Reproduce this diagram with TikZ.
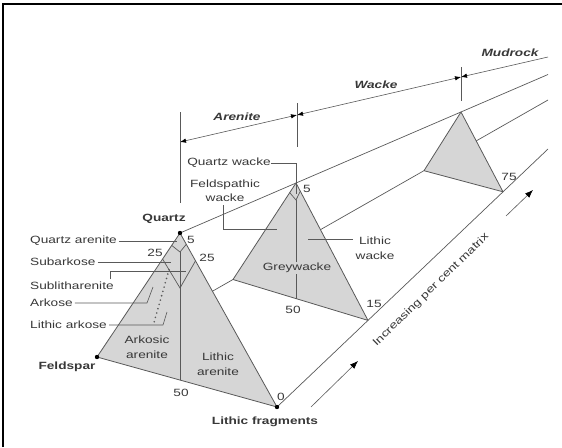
\documentclass[tikz,border=0pt]{standalone}
\usepackage{fontspec}
\setmainfont[FakeStretch=1.3]{Liberation Sans}
\usetikzlibrary{arrows.meta,calc}
\definecolor{ln}{gray}{0.35}
\definecolor{tx}{gray}{0.22}
\definecolor{fillg}{gray}{0.84}
\begin{document}
\begin{tikzpicture}[x=1pt,y=-1pt,
  edge/.style={draw=ln,line width=0.7pt},
  tri/.style={fill=fillg,draw=ln,line width=0.8pt,line join=round},
  inner/.style={draw=ln,line width=0.7pt},
  leader/.style={draw=ln,line width=0.6pt},
  lbl/.style={font=\fontsize{10.5}{14.5}\selectfont,text=tx,inner sep=0pt,align=center},
  blbl/.style={lbl,font=\fontsize{10.5}{14.5}\selectfont\bfseries},
  rng/.style={lbl,font=\fontsize{10.5}{14.5}\selectfont\bfseries\itshape},
  ah/.tip={Latex[length=6pt,width=4.5pt,fill=black,color=black]},
  bh/.tip={Latex[length=8pt,width=6pt,fill=black,color=black]}
]
\useasboundingbox (0,0) rectangle (562,447);
% frame
\draw[line width=1.3pt] (3,447) -- (3,4) -- (562,4);

% vertices
\coordinate (Q1) at (180,233);
\coordinate (F1) at (97,357);
\coordinate (L1) at (277,407);
\coordinate (Q2) at (296,183);
\coordinate (F2) at (233,279.5);
\coordinate (L2) at (368,320.4);
\coordinate (Q3) at (461,112);
\coordinate (F3) at (424,170.7);
\coordinate (L3) at (503,191.8);
\coordinate (Qe) at (548,74.5);
\coordinate (Fe) at (548,100);
\coordinate (Le) at (548,149);

% prism edges
\draw[edge] (Q1) -- (Qe);
\draw[edge] (F1) -- (Fe);
\draw[edge] (L1) -- (Le);

% triangles
\filldraw[tri] (Q3) -- (F3) -- (L3) -- cycle;
\filldraw[tri] (Q2) -- (F2) -- (L2) -- cycle;
\filldraw[tri] (Q1) -- (F1) -- (L1) -- cycle;

% front triangle inner lines
\coordinate (B1) at (180,380.1);
\coordinate (D1l) at ($(Q1)!0.1!(F1)$);
\coordinate (D1r) at ($(Q1)!0.065!(L1)$);
\coordinate (D1b) at (180,252);
\coordinate (V1l) at ($(Q1)!0.21!(F1)$);
\coordinate (V1r) at ($(Q1)!0.16!(L1)$);
\coordinate (V1b) at (180,288);
\draw[inner] (D1l) -- (D1b) -- (D1r);
\draw[inner] (V1l) -- (V1b) -- (V1r);
\draw[inner] (D1b) -- (B1);
\coordinate (dotA) at ($(V1l)!0.37!(V1b)$);
\coordinate (dotB) at (153,326);
\draw[ln,line width=1.8pt,line cap=round,dash pattern=on 0pt off 4.5pt] (dotA) -- (dotB);

% greywacke inner lines
\coordinate (B2) at (296,298.6);
\coordinate (D2l) at ($(Q2)!0.1!(F2)$);
\coordinate (D2r) at ($(Q2)!0.06!(L2)$);
\coordinate (D2b) at (296,200);
\draw[inner] (D2l) -- (D2b) -- (D2r);
\draw[inner] (D2b) -- (B2);

% vertex dots
\fill (Q1) circle (2.2pt);
\fill (F1) circle (2.2pt);
\fill (L1) circle (2.2pt);

% corner labels
\node[blbl] (nQ) at (164,219) {Quartz};
\node[blbl] (nF) at (67,367) {Feldspar};
\node[blbl] (nL) at (265,422) {Lithic fragments};

% numbers
\node[lbl] (n5a) at (191,240) {5};
\node[lbl] (n25a) at (155,253) {25};
\node[lbl] (n25b) at (207,258) {25};
\node[lbl] (n50a) at (181,393) {50};
\node[lbl] (n0) at (281,397) {0};
\node[lbl] (n5b) at (307,189) {5};
\node[lbl] (n50b) at (293,310) {50};
\node[lbl] (n15) at (374,304) {15};
\node[lbl] (n75) at (509,177) {75};

% field labels
\node[lbl] (aa) at (147,347) {Arkosic\\arenite};
\node[lbl] (la) at (218,364) {Lithic\\arenite};
\node[lbl,fill=fillg,inner sep=1pt] (gw) at (297,268) {Greywacke};

% left leader labels
\node[lbl,anchor=west] (qa) at (30,241) {Quartz arenite};
\node[lbl,anchor=west] (sa) at (30,262) {Subarkose};
\node[lbl,anchor=west] (sl) at (30,286) {Sublitharenite};
\node[lbl,anchor=west] (ak) at (30,303) {Arkose};
\node[lbl,anchor=west] (lk) at (30,325) {Lithic arkose};
\coordinate (qaE) at (177,241);
\coordinate (saE) at (171,262);
\coordinate (slA) at (110,279);
\coordinate (slE) at (186,271);
\coordinate (akB) at (147,303);
\coordinate (akE) at (153,287);
\coordinate (lkB) at (163,325);
\coordinate (lkE) at (167,312);
\draw[leader] ([xshift=2pt]qa.east) -- (qaE);
\draw[leader] ([xshift=2pt]sa.east) -- (saE);
\draw[leader] (slA) |- (slE);
\draw[leader] ([xshift=2pt]ak.east) -- (akB) -- (akE);
\draw[leader] ([xshift=2pt]lk.east) -- (lkB) -- (lkE);

% wacke labels
\node[lbl] (qw) at (229,163) {Quartz wacke};
\coordinate (qwB) at (296,163);
\coordinate (qwE) at (296,194);
\draw[leader] (qw.east) -- (qwB) -- (qwE);
\node[lbl] (fw) at (225,190.5) {Feldspathic\\wacke};
\coordinate (fwA) at (223,205);
\coordinate (fwE) at (277,229);
\draw[leader] (fwA) |- (fwE);
\node[lbl] (lw) at (375,248) {Lithic\\wacke};
\coordinate (lwA) at (308,239);
\coordinate (lwE) at (353,239);
\draw[leader] (lwA) -- (lwE);

% top range line
\coordinate (T1) at (180,142);
\coordinate (T2) at (297,115);
\coordinate (T3) at (461,77);
\coordinate (Te) at (548,57);
\draw[leader,{ah}-{ah}] (T1) -- (T2);
\draw[leader,{ah}-{ah}] (T2) -- (T3);
\draw[leader,{ah}-] (T3) -- (Te);
\coordinate (k1a) at (180,112);
\coordinate (k1b) at (180,203);
\coordinate (k2a) at (297,103);
\coordinate (k2b) at (297,147);
\coordinate (k3a) at (461,67);
\coordinate (k3b) at (461,101);
\draw[leader] (k1a) -- (k1b);
\draw[leader] (k2a) -- (k2b);
\draw[leader] (k3a) -- (k3b);
\node[rng] (ar) at (237,117) {Arenite};
\node[rng] (wa) at (376,85) {Wacke};
\node[rng] (mu) at (510,53) {Mudrock};

% increasing matrix arrow
\coordinate (A0) at (311,407);
\coordinate (A1) at (358,361);
\coordinate (A2) at (506,216);
\coordinate (A3) at (533,190);
\draw[leader,-{bh}] (A0) -- (A1);
\draw[leader,-{bh}] (A2) -- (A3);
\node[lbl,rotate=44.3] (inc) at (431,290) {Increasing per cent matrix};
\end{tikzpicture}
\end{document}
